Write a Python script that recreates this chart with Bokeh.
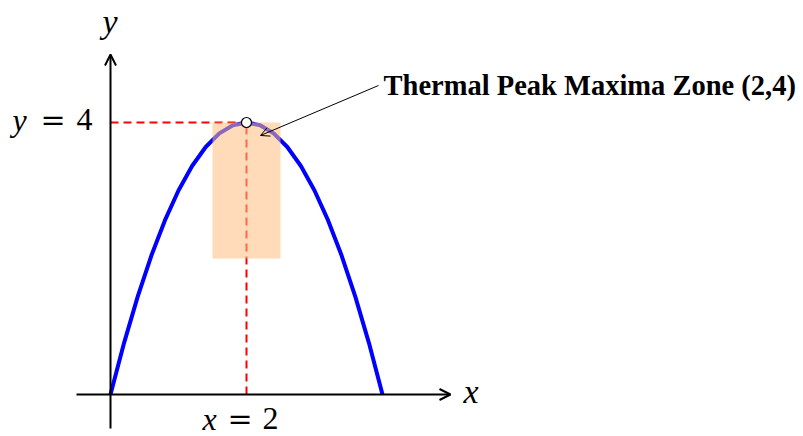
from bokeh.plotting import figure
from bokeh.models import Arrow, OpenHead
from bokeh.core.properties import value
from bokeh.embed import file_html
from bokeh.resources import INLINE

# curve points
curve_x = [0.0, 0.2, 0.4, 0.6, 0.8, 1.0, 1.2, 1.4, 1.6, 1.8, 2.0,
           2.2, 2.4, 2.6, 2.8, 3.0, 3.2, 3.4, 3.6, 3.8, 4.0]
curve_y = [0.0, 0.76, 1.44, 2.04, 2.56, 3.0, 3.36, 3.64, 3.84, 3.96, 4.0,
           3.96, 3.84, 3.64, 3.36, 3.0, 2.56, 2.04, 1.44, 0.76, 0.0]
peak_x = [2.0]
peak_y = [4.0]
zone_left = [1.5]
zone_right = [2.5]
zone_bottom = [2.0]
zone_top = [4.0]
axis_min = -0.5
axis_max = 5.0
annotation = "Thermal Peak Maxima Zone (2,4)"

SERIF = value("Liberation Serif")

p = figure(width=803, height=436, x_range=(-1.6176, 10.191), y_range=(-0.6176, 5.794),
           output_backend="svg", toolbar_location=None, min_border=0,
           outline_line_color=None)
p.axis.visible = False
p.grid.visible = False
p.background_fill_color = "white"
p.border_fill_color = "white"

# axes
p.add_layout(Arrow(end=OpenHead(size=11, line_width=2, line_color="black"),
                   x_start=axis_min, y_start=0, x_end=axis_max, y_end=0,
                   line_width=2, line_color="black"))
p.add_layout(Arrow(end=OpenHead(size=11, line_width=2, line_color="black"),
                   x_start=0, y_start=axis_min, x_end=0, y_end=axis_max,
                   line_width=2, line_color="black"))

# curve
p.line(curve_x, curve_y, line_color="blue", line_width=4)

# dashed guides
p.line([0, peak_x[0]], [peak_y[0], peak_y[0]], line_color="red", line_width=2, line_dash="8 5")
p.line([peak_x[0], peak_x[0]], [0, peak_y[0]], line_color="red", line_width=2, line_dash="8 5")

# zone
p.quad(left=zone_left, right=zone_right, bottom=zone_bottom, top=zone_top,
       fill_color="#FFBE82", fill_alpha=0.55, line_color=None)

# peak marker
p.scatter(peak_x, peak_y, size=10, marker="circle", fill_color="white",
          line_color="black", line_width=1.2)

# annotation arrow
p.add_layout(Arrow(end=OpenHead(size=9, line_width=1, line_color="black"),
                   x_start=3.941, y_start=4.544, x_end=2.206, y_end=3.809,
                   line_width=1, line_color="black"))
p.text(x=[4.015], y=[4.537], text=[annotation], text_font=SERIF,
       text_font_style="bold", text_font_size="28.5px", text_baseline="middle",
       text_align="left", text_color="black")

# axis labels
p.text(x=[-0.007], y=[5.478], text=["y"], text_font=SERIF, text_font_style="italic",
       text_font_size="34px", text_align="center", text_baseline="middle")
p.text(x=[5.191], y=[0.037], text=["x"], text_font=SERIF, text_font_style="italic",
       text_font_size="34px", text_align="left", text_baseline="middle")

# y = 4
p.text(x=[-1.441], y=[4.044], text=["y"], text_font=SERIF, text_font_style="italic",
       text_font_size="32px", text_align="left", text_baseline="middle")
p.text(x=[-0.846], y=[4.044], text=["="], text_font=value("DejaVu Serif"),
       text_font_size="30px", text_align="center", text_baseline="middle")
p.text(x=[-0.265], y=[4.044], text=["4"], text_font=SERIF,
       text_font_size="32px", text_align="right", text_baseline="middle")

# x = 2
p.text(x=[1.353], y=[-0.360], text=["x"], text_font=SERIF, text_font_style="italic",
       text_font_size="32px", text_align="left", text_baseline="middle")
p.text(x=[1.904], y=[-0.360], text=["="], text_font=value("DejaVu Serif"),
       text_font_size="30px", text_align="center", text_baseline="middle")
p.text(x=[2.471], y=[-0.360], text=["2"], text_font=SERIF,
       text_font_size="32px", text_align="right", text_baseline="middle")

open("out.html", "w").write(file_html(p, INLINE))
